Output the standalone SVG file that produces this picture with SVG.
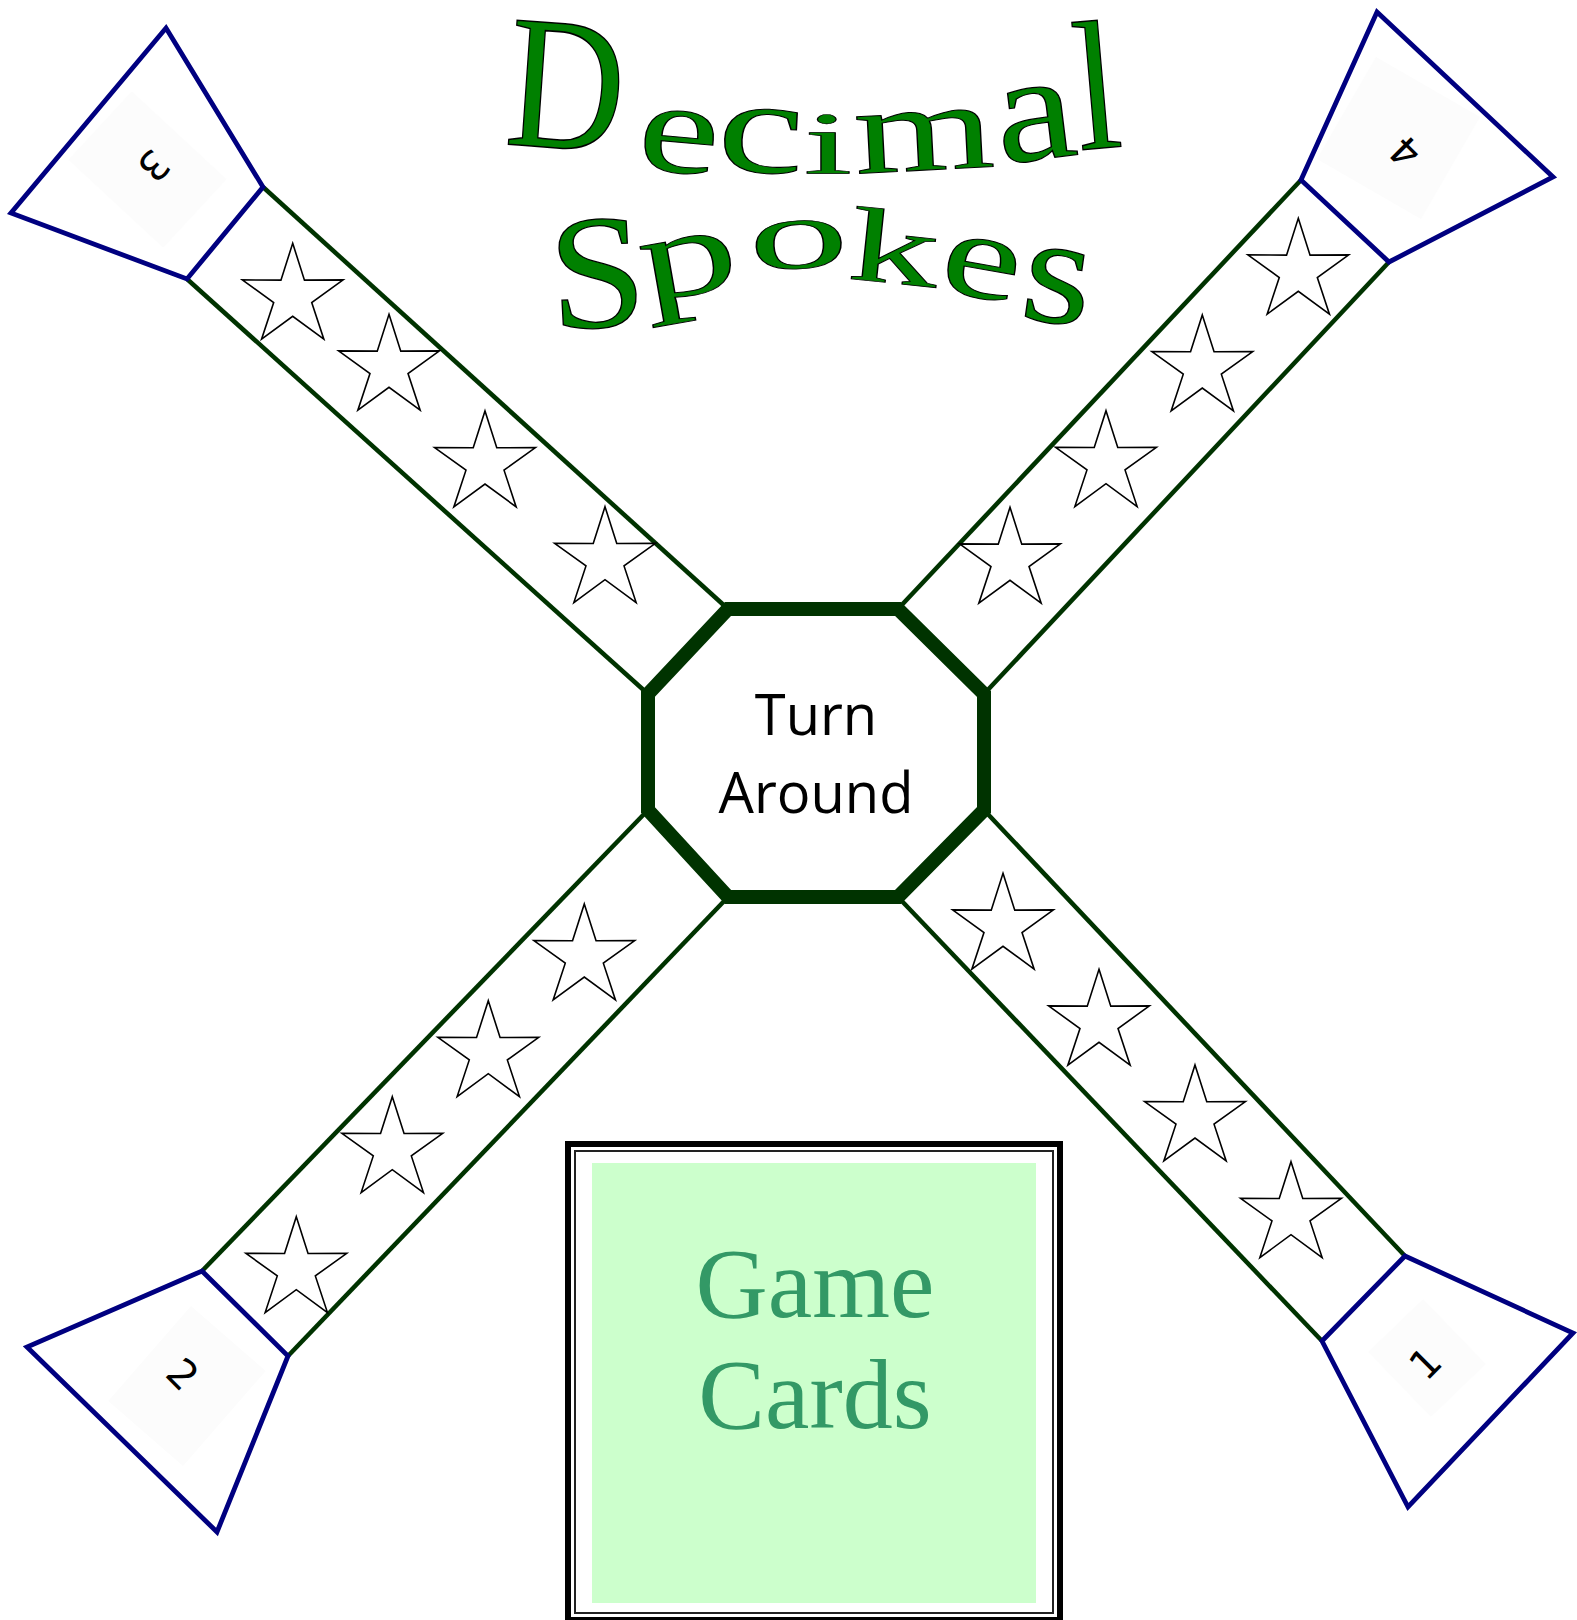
<svg xmlns="http://www.w3.org/2000/svg" xmlns:xlink="http://www.w3.org/1999/xlink" width="1577" height="1620" viewBox="0 0 1577 1620">
<style>
.tri{fill:#ffffff;stroke:#000080;stroke-width:4.8;stroke-linejoin:miter}
.pad{fill:#fcfcfc;stroke:none}
.num{font-family:"DejaVu Sans",sans-serif;font-size:40px;fill:#000;text-anchor:middle}
.band{stroke:#003300;stroke-width:4.5;fill:none}
.star{fill:#ffffff;stroke:#000;stroke-width:1.6;stroke-linejoin:miter}
.oct{fill:#ffffff;stroke:#003300;stroke-width:14;stroke-linejoin:miter}
.turn{font-family:"Open Sans","Noto Sans",sans-serif;font-size:56px;fill:#000;text-anchor:middle}
.ttl{font-family:"Liberation Serif","DejaVu Serif",serif;font-size:100px;fill:#008000;stroke:#000;stroke-width:0.8;text-anchor:middle}
.gc{font-family:"Liberation Serif","DejaVu Serif",serif;font-size:100px;fill:#339966;text-anchor:middle}
</style>
<defs>
<path id="star" d="M0,-53 L11.76,-16.18 L50.41,-16.38 L19.02,6.18 L31.15,42.88 L0,20 L-31.15,42.88 L-19.02,6.18 L-50.41,-16.38 L-11.76,-16.18 Z"/>
</defs>
<rect x="0" y="0" width="1577" height="1620" fill="#ffffff"/>

<g id="connectors">
<line class="band" x1="263" y1="187" x2="728" y2="609"/>
<line class="band" x1="187" y1="279" x2="648" y2="694"/>
<line class="band" x1="1301" y1="180" x2="898" y2="609"/>
<line class="band" x1="1389" y1="262" x2="984" y2="694"/>
<line class="band" x1="202" y1="1271" x2="648" y2="810"/>
<line class="band" x1="288" y1="1356" x2="728" y2="897"/>
<line class="band" x1="1405" y1="1256" x2="984" y2="810"/>
<line class="band" x1="1322" y1="1341" x2="898" y2="897"/>
</g>

<g id="stars">
<use xlink:href="#star" href="#star" class="star" x="292.7" y="296.3"/>
<use xlink:href="#star" href="#star" class="star" x="389" y="367.3"/>
<use xlink:href="#star" href="#star" class="star" x="485" y="464"/>
<use xlink:href="#star" href="#star" class="star" x="605" y="559.7"/>
<use xlink:href="#star" href="#star" class="star" x="1298.3" y="271.3"/>
<use xlink:href="#star" href="#star" class="star" x="1202.3" y="368"/>
<use xlink:href="#star" href="#star" class="star" x="1106" y="463.7"/>
<use xlink:href="#star" href="#star" class="star" x="1010" y="560.3"/>
<use xlink:href="#star" href="#star" class="star" x="584.3" y="957"/>
<use xlink:href="#star" href="#star" class="star" x="488.3" y="1053.7"/>
<use xlink:href="#star" href="#star" class="star" x="392.3" y="1149.7"/>
<use xlink:href="#star" href="#star" class="star" x="296.3" y="1269.7"/>
<use xlink:href="#star" href="#star" class="star" x="1003" y="926.3"/>
<use xlink:href="#star" href="#star" class="star" x="1099" y="1022.3"/>
<use xlink:href="#star" href="#star" class="star" x="1195" y="1118"/>
<use xlink:href="#star" href="#star" class="star" x="1291" y="1214.7"/>
</g>

<g id="end3">
<polygon class="tri" points="166,28 263,187 187,279 11,213"/>
<rect class="pad" x="-64.5" y="-46.5" width="129" height="93" transform="translate(147.5,169.5) rotate(42.8)"/>
<text class="num" transform="translate(154,166) rotate(135)" y="14.6">3</text>
</g>
<g id="end4">
<polygon class="tri" points="1377,12 1553,177 1389,262 1301,180"/>
<rect class="pad" x="-60" y="-59" width="120" height="118" transform="translate(1398.5,138) rotate(30)"/>
<text class="num" transform="translate(1405,152) rotate(-135)" y="14.6">4</text>
</g>
<g id="end2">
<polygon class="tri" points="202,1271 288,1356 217,1532 27,1347"/>
<rect class="pad" x="-49.5" y="-63" width="99" height="126" transform="translate(187,1386) rotate(41)"/>
<text class="num" transform="translate(183,1374) rotate(45)" y="14.6">2</text>
</g>
<g id="end1">
<polygon class="tri" points="1405,1256 1573,1333 1408,1507 1322,1341"/>
<rect class="pad" x="-45" y="-38" width="90" height="76" transform="translate(1427,1358) rotate(46)"/>
<text class="num" transform="translate(1425,1363) rotate(-45)" y="14.6">1</text>
</g>

<g id="center">
<polygon class="oct" points="728,609 898,609 984,694 984,810 898,897 728,897 648,810 648,694"/>
<text class="turn" x="816" y="735">Turn</text>
<text class="turn" x="816" y="813">Around</text>
</g>

<g id="gamecards">
<rect x="568" y="1144" width="492" height="476" fill="#ffffff" stroke="#000" stroke-width="6"/>
<rect x="575" y="1151" width="478" height="462" fill="none" stroke="#222" stroke-width="2"/>
<rect x="592" y="1163" width="444" height="440" fill="#ccffcc"/>
<text class="gc" x="815" y="1317">Game</text>
<text class="gc" x="815" y="1428">Cards</text>
</g>

<g id="title">
<text class="ttl" transform="translate(562,148) rotate(4) scale(1.62,1.9)">D</text>
<text class="ttl" transform="translate(676,172) rotate(5) scale(1.83,1.30)">e</text>
<text class="ttl" transform="translate(759,172) rotate(3) scale(1.95,1.34)">c</text>
<text class="ttl" transform="translate(828,173) scale(1.76,0.89)">i</text>
<text class="ttl" transform="translate(926,170) rotate(-3) scale(1.80,1.24)">m</text>
<text class="ttl" transform="translate(1040,159) rotate(-7) scale(1.81,1.53)">a</text>
<text class="ttl" transform="translate(1102,148) rotate(-5) scale(1.6,1.84)">l</text>
<text class="ttl" transform="translate(600,327) rotate(-3) scale(1.74,1.63)">S</text>
<text class="ttl" transform="translate(694,294) rotate(-10) scale(1.96,1.22)">p</text>
<text class="ttl" transform="translate(800,268) rotate(-3) scale(2.0,1.0)">o</text>
<text class="ttl" transform="translate(891,283) rotate(6) scale(1.8,1.05)">k</text>
<text class="ttl" transform="translate(976,297) rotate(10) scale(1.8,1.23)">e</text>
<text class="ttl" transform="translate(1052,322) rotate(8) scale(1.78,1.55)">s</text>
</g>
</svg>
